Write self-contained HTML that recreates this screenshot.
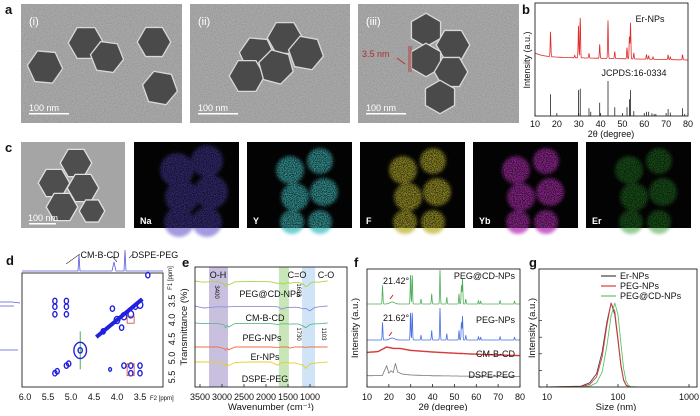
<!DOCTYPE html>
<html><head><meta charset="utf-8">
<style>
html,body{margin:0;padding:0;background:#fff;}
body{width:700px;height:411px;overflow:hidden;font-family:"Liberation Sans",sans-serif;}
svg text{font-family:"Liberation Sans",sans-serif;}
</style></head>
<body>
<svg id="fig" width="700" height="411" viewBox="0 0 700 411" xmlns="http://www.w3.org/2000/svg">
<defs>
<filter id="noise" x="0" y="0" width="100%" height="100%">
<feTurbulence type="fractalNoise" baseFrequency="0.9" numOctaves="2" seed="3"/>
<feColorMatrix values="0 0 0 0 0  0 0 0 0 0  0 0 0 0 0  0 0 0 1.2 -0.45"/>
<feComposite operator="in" in2="SourceGraphic"/>
</filter>
<filter id="speck" x="0" y="0" width="100%" height="100%">
<feTurbulence type="fractalNoise" baseFrequency="1.1" numOctaves="1" seed="7"/>
<feColorMatrix values="0 0 0 0 0  0 0 0 0 0  0 0 0 0 0  0 0 0 -3 1.9"/>
<feComposite operator="in" in2="SourceGraphic"/>
</filter>
<filter id="blur1"><feGaussianBlur stdDeviation="1.5"/></filter>
</defs>
<g id="root"></g>
</svg>
<script>
// ---------- Panel b data ----------
const bPeaks2t = [17.1,28.2,29.9,30.7,34.7,39.6,43.4,46.5,52.1,53.2,53.7,55.2,61.0,62.0,64.0,70.9,71.9,77.5];
const bPeaksH  = [0.62,0.06,0.80,1.00,0.12,0.35,0.95,0.18,0.28,0.55,0.90,0.15,0.12,0.08,0.06,0.12,0.07,0.13];
const bSticks2t = [17.1,29.9,30.7,34.7,35.5,39.6,43.4,46.5,52.1,53.2,53.7,55.2,61.0,62.0,63.5,64.5,65.3,70.9,71.9,77.5,78.5];
const bSticksH  = [0.62,0.74,0.78,0.22,0.12,0.38,1.00,0.25,0.25,0.48,0.74,0.14,0.12,0.12,0.08,0.06,0.06,0.20,0.10,0.22,0.06];
const bTicks = [10,20,30,40,50,60,70,80];
// ---------- Panel d data (ppm F2, ppm F1, size) ----------
const dF2 = [5.35,5.35,5.35,5.1,5.1,5.1,4.8,3.33,5.35,5.3,5.1,5.05,4.8,4.15,3.85,3.7,3.7,3.5,3.5,3.85,3.7,3.5,4.1,3.6,3.9,4.3,4.0];
const dF1 = [3.5,3.65,3.85,3.5,3.65,3.85,4.8,2.82,5.4,5.35,5.2,5.15,4.8,5.3,5.2,5.2,5.4,5.2,5.4,3.9,3.85,3.6,3.7,3.65,4.2,4.3,4.0];
const dSize = [3,3,3,3,3,3,9,3,3,3,3,3,3,2,3,3,3,3,3,4,4,4,3,3,3,3,4];
const dDiagFrom = [4.45,4.45];
const dDiagTo = [3.45,3.45];
const dXTicks = [6.0,5.5,5.0,4.5,4.0,3.5];
const dYTicks = [3.5,4.0,4.5,5.0,5.5];
// ---------- Panel e data (wavenumber, dip depth) ----------
const eNames = ["PEG@CD-NPs","CM-B-CD","PEG-NPs","Er-NPs","DSPE-PEG"];
const eColors = ["#a9d44a","#8d8fd6","#62b98c","#ea7148","#e6cf2e"];
const eBase = [0.0,0.25,0.42,0.66,0.81];
const eWn = [3650,3500,3400,3300,3100,2950,2920,2880,2850,2700,2300,1900,1730,1650,1600,1500,1460,1350,1250,1150,1100,1050,1000,900,800,700,600];
const eDip = [
 [0,0.02,0.03,0.02,0.01,0.08,0.14,0.06,0.1,0.02,0.01,0.02,0.06,0.05,0.08,0.03,0.06,0.03,0.04,0.08,0.14,0.12,0.06,0.02,0.03,0.01,0],
 [0,0.03,0.05,0.04,0.02,0.02,0.03,0.02,0.02,0.01,0.01,0.01,0.02,0.08,0.06,0.03,0.04,0.03,0.04,0.07,0.06,0.09,0.12,0.04,0.02,0.01,0],
 [0,0.01,0.01,0.01,0.01,0.05,0.12,0.06,0.1,0.01,0.01,0.01,0.04,0.02,0.02,0.02,0.03,0.02,0.03,0.08,0.12,0.08,0.04,0.02,0.02,0.01,0],
 [0,0,0,0,0,0.04,0.08,0.03,0.07,0,0,0,0.01,0,0,0,0.03,0,0,0,0.01,0,0,0,0,0,0],
 [0,0,0,0,0,0.06,0.1,0.05,0.09,0.01,0,0,0.08,0.02,0.01,0.01,0.03,0.02,0.05,0.08,0.16,0.1,0.05,0.03,0.02,0.01,0]
];
const eTicks = [3500,3000,2500,2000,1500,1000];
// ---------- Panel f data ----------
const fNames = ["PEG@CD-NPs","PEG-NPs","CM-B-CD","DSPE-PEG"];
const fColors = ["#4fae5a","#4a6fe0","#d83a3a","#777777"];
const fPeaks2t = [17.1,29.9,30.7,34.7,39.6,43.4,46.5,52.1,53.2,53.7,55.2,61.0,62.0,70.9,77.5];
const fPeaksH = [0.55,0.85,0.85,0.15,0.3,1.0,0.2,0.3,0.55,0.75,0.15,0.1,0.08,0.1,0.08];
const fHumpX = [10,15,19,22,25,30,40,50,60,70,80];
const fCMBCD = [0.18,0.22,0.45,0.38,0.38,0.28,0.2,0.14,0.09,0.05,0.02];
const fDSPEx = [10,17,19,20,21,22,23,24,26,30,40,60,80];
const fDSPEy = [0.05,0.06,0.45,0.15,0.25,0.18,0.55,0.2,0.12,0.08,0.05,0.03,0.02];
const fTicks = [10,20,30,40,50,60,70,80];
// ---------- Panel g data ----------
const gSizes = [10,30,40,50,60,70,80,90,100,110,120,130,140,150,200,1000];
const gEr  = [0,0.01,0.05,0.16,0.42,0.78,1.0,0.86,0.55,0.25,0.08,0.02,0.005,0,0,0];
const gPEG = [0,0.005,0.03,0.12,0.36,0.74,1.0,0.9,0.58,0.27,0.09,0.025,0.006,0,0,0];
const gCD  = [0,0.002,0.01,0.05,0.18,0.5,0.85,1.0,0.86,0.52,0.22,0.07,0.02,0.005,0,0];
const gNames = ["Er-NPs","PEG-NPs","PEG@CD-NPs"];
const gColors = ["#444444","#e0393e","#5cc46a"];
const gTicks = [10,100,1000];

const NS="http://www.w3.org/2000/svg";
const root=document.getElementById('root');
function mk(tag,attrs,parent,txt){const e=document.createElementNS(NS,tag);for(const k in attrs)e.setAttribute(k,attrs[k]);if(txt!==undefined)e.textContent=txt;(parent||root).appendChild(e);return e;}
function txt(x,y,s,size,opts,parent){opts=opts||{};const t=mk('text',Object.assign({x:x,y:y,'font-size':size,fill:opts.fill||'#111','text-anchor':opts.anchor||'start'},opts.extra||{}),parent,s);if(opts.rot)t.setAttribute('transform','rotate('+opts.rot+' '+x+' '+y+')');if(opts.bold)t.setAttribute('font-weight','bold');return t;}
function hexPts(cx,cy,r,rot){let p=[];for(let i=0;i<6;i++){const a=(rot+60*i)*Math.PI/180;p.push((cx+r*Math.cos(a)).toFixed(1)+','+(cy+r*Math.sin(a)).toFixed(1));}return p.join(' ');}

// ---------- Panel labels ----------
[['a',5,14],['b',522,14],['c',5,152],['d',6,265],['e',182,267],['f',354,267],['g',529,267]].forEach(l=>{
 const t=txt(l[1],l[2],l[0],13,{bold:true});
 
 
});

// ---------- Panel a TEM images ----------
const temBoxes=[[21,4,161,119,'(i)'],[190,4,160,119,'(ii)'],[358,4,161,119,'(iii)']];
const temHex=[
 [[45,67,17,5],[86,43,17,0],[107,57,16,8],[154,42,16,0],[160,88,17,10]],
 [[257,54,17,5],[285,38,17,0],[306,53,17,10],[247,76,17,0],[276,67,17,15]],
 [[426,30,16,30],[453,45,16,0],[426,60,16,30],[451,72,16,0],[440,97,16,30]]
];
temBoxes.forEach((b,i)=>{
 const g=mk('g',{});
 
 
 mk('rect',{x:b[0],y:b[1],width:b[2],height:b[3],fill:'#a9a9a9'},g);
 mk('rect',{x:b[0],y:b[1],width:b[2],height:b[3],fill:'#000',filter:'url(#noise)',opacity:0.25},g);
 temHex[i].forEach(h=>{
  mk('polygon',{points:hexPts(h[0],h[1],h[2]+1.5,h[3]),fill:'#d8d8d8'},g);
  mk('polygon',{points:hexPts(h[0],h[1],h[2],h[3]),fill:'#4a4a4a'},g);
 });
 txt(b[0]+8,b[1]+21,b[4],11,{fill:'#fff'},g);
 mk('rect',{x:b[0]+8,y:b[1]+109,width:40,height:1.5,fill:'#fff'},g);
 txt(b[0]+8,b[1]+107,'100 nm',9,{fill:'#fff'},g);
});
const annot=mk('g',{});


mk('line',{x1:409,y1:46,x2:409,y2:72,stroke:'#b03030','stroke-width':0.8},annot);
mk('line',{x1:411,y1:46,x2:411,y2:72,stroke:'#b03030','stroke-width':0.8},annot);
mk('line',{x1:397,y1:58,x2:405,y2:64,stroke:'#b03030','stroke-width':0.8},annot);
txt(362,57,'3.5 nm',9,{fill:'#b03030'},annot);

// ---------- Panel b ----------
(function(){
 const X0=535,X1=688,Y0=3,Y1=116;
 const bx=v=>X0+(v-10)/70*(X1-X0);
 const g=mk('g',{});
 
 
 let d='';
 for(let t=10;t<=80;t+=0.1){const base=57+(t-10)/70*3-4*Math.exp(-(t-10)/4);let y=base;
  bPeaks2t.forEach((p,i)=>{y-=bPeaksH[i]*40*Math.exp(-Math.pow((t-p)/0.22,2));});
  d+=(d?'L':'M')+bx(t).toFixed(1)+','+y.toFixed(1);}
 const pth=mk('path',{d:d,fill:'none',stroke:'#e02b2b','stroke-width':0.8},g);
 
 
 bSticks2t.forEach((p,i)=>{
  const l=mk('line',{x1:bx(p),x2:bx(p),y1:116,y2:116-bSticksH[i]*35,stroke:'#222','stroke-width':0.8},g);
  
  
 });
 mk('rect',{x:X0,y:Y0,width:X1-X0,height:Y1-Y0,fill:'none',stroke:'#222','stroke-width':0.9},g);
 bTicks.forEach(t=>{mk('line',{x1:bx(t),x2:bx(t),y1:Y1,y2:Y1-3,stroke:'#222','stroke-width':0.8},g);
  const tl=txt(bx(t),127,String(t),9,{anchor:'middle'},g);
  
  });
 txt(611,137,'2θ (degree)',9,{anchor:'middle'},g);
 txt(530,60,'Intensity (a.u.)',9,{anchor:'middle',rot:-90},g);
 txt(650,22,'Er-NPs',9,{anchor:'middle'},g);
 txt(634,76,'JCPDS:16-0334',9,{anchor:'middle'},g);
})();

// ---------- Panel c ----------
(function(){
 const y=142,h=86;
 const g0=mk('g',{});
 
 
 mk('rect',{x:21,y:y,width:104,height:h,fill:'#a5a5a5'},g0);
 [[76,163,15,0],[54,183,15,0],[83,188,15,0],[62,207,15,0],[92,211,12,0]].forEach(c=>{
  mk('polygon',{points:hexPts(c[0],c[1],c[2]+1.5,c[3]),fill:'#e0e0e0'},g0);
  mk('polygon',{points:hexPts(c[0],c[1],c[2],c[3]),fill:'#4e4e4e'},g0);});
 mk('rect',{x:29,y:223,width:27,height:1.5,fill:'#fff'},g0);
 txt(28,221,'100 nm',9,{fill:'#fff'},g0);
 const maps=[['Na',134,'#5a48c8'],['Y',247,'#45c0c0'],['F',360,'#bdb530'],['Yb',473,'#b830b8'],['Er',586,'#2f9a2f']];
 const blobs=[[28,28,14],[58,19,13],[62,50,14],[33,55,14],[30,80,12],[58,80,12]];
 maps.forEach(m=>{
  const g=mk('g',{});
  
  
  mk('rect',{x:m[1],y:y,width:105,height:h,fill:'#050505'},g);
  const cg=mk('g',{opacity:m[0]==='Er'?0.5:(m[0]==='Na'?0.55:0.75),filter:'url(#blur1)'},g);
  blobs.forEach(b=>{mk('circle',{cx:m[1]+15+b[0],cy:y+b[1],r:b[2]+(m[0]==='Na'?3:0),fill:m[2]},cg);});
  mk('rect',{x:m[1],y:y,width:105,height:h,fill:'#000',filter:'url(#speck)',opacity:0.75},g);
  txt(m[1]+6,y+h-4,m[0],9,{fill:'#fff',bold:true},g);
 });
})();

// ---------- Panel d ----------
(function(){
 const X0=22,X1=163,Y0=273,Y1=387;
 const dx=p=>25+(6-p)*46, dy=p=>301+(p-3.5)*38;
 const g=mk('g',{});
 
 
 mk('rect',{x:X0,y:Y0,width:X1-X0,height:Y1-Y0,fill:'#fff',stroke:'#222','stroke-width':0.9},g);
 mk('path',{d:'M22,271 L78,271 L79,255 L80,271 L112,271 L114,262 L116,271 L124,271 L125,250 L126,271 L163,271',fill:'none',stroke:'#5a5ae0','stroke-width':0.8},g);
 mk('path',{d:'M0,302 L12,302 L20,303 M0,306 L14,306 M0,350 L18,350',fill:'none',stroke:'#5a5ae0','stroke-width':0.8},g);
 const dl=mk('line',{x1:dx(dDiagFrom[0]),y1:dy(dDiagFrom[1]),x2:dx(dDiagTo[0]),y2:dy(dDiagTo[1]),stroke:'#2020e0','stroke-width':4},g);
 
 
 mk('line',{x1:dx(4.8),y1:dy(4.3),x2:dx(4.8),y2:dy(5.3),stroke:'#20a020','stroke-width':0.8},g);
 dF2.forEach((v,i)=>{
  const c=mk('ellipse',{cx:dx(v),cy:dy(dF1[i]),rx:dSize[i]*0.7,ry:dSize[i]*0.9,fill:'none',stroke:'#2020e0','stroke-width':1.4},g);
  
  
 });
 mk('rect',{x:dx(3.78),y:dy(5.15),width:7,height:12,fill:'none',stroke:'#c04040','stroke-width':0.8},g);
 mk('rect',{x:dx(3.78),y:dy(3.9),width:7,height:7,fill:'none',stroke:'#c04040','stroke-width':0.8},g);
 dXTicks.forEach(t=>{const l=txt(dx(t),400,t.toFixed(1),9,{anchor:'middle'},g);
  
  });
 txt(150,400,'F2 [ppm]',6,{},g);
 dYTicks.forEach(t=>{const l=txt(175,dy(t),t.toFixed(1),9,{anchor:'middle',rot:-90},g);
  
  });
 txt(172,278,'F1 [ppm]',6,{anchor:'middle',rot:-90},g);
 txt(100,258,'CM-B-CD',9,{anchor:'middle'},g);
 txt(155,258,'DSPE-PEG',9,{anchor:'middle'},g);
 mk('path',{d:'M80,254 L66,264 M112,256 L117,262 M133,254 L129,258',stroke:'#333','stroke-width':0.6,fill:'none'},g);
})();

// ---------- Panel e ----------
(function(){
 const X0=195,X1=347,Y0=267,Y1=387;
 const ex=w=>200+(3500-w)/500*22;
 const g=mk('g',{});
 
 
 mk('rect',{x:ex(3500)+9,y:Y0,width:19,height:Y1-Y0,fill:'#c9c0e0'},g);
 mk('rect',{x:ex(1730)+1,y:Y0,width:10,height:Y1-Y0,fill:'#c8e6b8'},g);
 mk('rect',{x:ex(1180),y:Y0,width:13,height:Y1-Y0,fill:'#cfe4f6'},g);
 const yScale=(s,v)=>Y0+14+eBase[s]*(Y1-Y0-20)-(-v)*40;
 eNames.forEach((n,s)=>{
  let d='';
  eWn.forEach((w,i)=>{d+=(i?'L':'M')+Math.min(X1,Math.max(X0,ex(w))).toFixed(1)+','+yScale(s,eDip[s][i]).toFixed(1);});
  const p=mk('path',{d:d,fill:'none',stroke:eColors[s],'stroke-width':0.9},g);
  
  
  const lx=[270,265,262,265,265][s], ly=[297,321,341,360,382][s];
  txt(lx,ly,n,9,{anchor:'middle'},g);
 });
 mk('rect',{x:X0,y:Y0,width:X1-X0,height:Y1-Y0,fill:'none',stroke:'#222','stroke-width':0.9},g);
 eTicks.forEach(t=>{mk('line',{x1:ex(t),x2:ex(t),y1:Y1,y2:Y1-3,stroke:'#222','stroke-width':0.8},g);
  const l=txt(ex(t),400,String(t),9,{anchor:'middle'},g);
  
  });
 txt(271,410,'Wavenumber (cm⁻¹)',9.5,{anchor:'middle'},g);
 txt(187,327,'Transmittance (%)',9.5,{anchor:'middle',rot:-90},g);
 txt(218,278,'O-H',9,{anchor:'middle'},g);
 txt(297,278,'C=O',9,{anchor:'middle'},g);
 txt(326,278,'C-O',9,{anchor:'middle'},g);
 txt(215,292,'3400',6,{anchor:'middle',rot:90},g);
 txt(297,290,'1683',6,{anchor:'middle',rot:90},g);
 txt(297,334,'1730',6,{anchor:'middle',rot:90},g);
 txt(322,334,'1103',6,{anchor:'middle',rot:90},g);
})();

// ---------- Panel f ----------
(function(){
 const X0=367,X1=520,Y0=269,Y1=387;
 const fx=v=>X0+(v-10)/70*(X1-X0);
 const g=mk('g',{});
 
 
 const interp=(xs,ys,t)=>{for(let i=1;i<xs.length;i++){if(t<=xs[i]){const r=(t-xs[i-1])/(xs[i]-xs[i-1]);return ys[i-1]+r*(ys[i]-ys[i-1]);}}return ys[ys.length-1];};
 const series=[[304,30,0],[340,30,1],[352,20,2],[377,25,3]];
 series.forEach(sr=>{
  const s=sr[2];let d='';
  for(let t=10;t<=80;t+=0.1){let y=sr[0];
   if(s<2){fPeaks2t.forEach((p,i)=>{y-=fPeaksH[i]*(s===0?34:32)*Math.exp(-Math.pow((t-p)/0.22,2));});y-=2*Math.exp(-Math.pow((t-21.5)/1.5,2));}
   else if(s===2){y-=interp(fHumpX,fCMBCD,t)*sr[1];y+=4;}
   else{y-=interp(fDSPEx,fDSPEy,t)*sr[1];}
   d+=(d?'L':'M')+fx(t).toFixed(1)+','+y.toFixed(1);}
  const p=mk('path',{d:d,fill:'none',stroke:fColors[s],'stroke-width':s===2?1.4:0.8},g);
  
  
 });
 mk('rect',{x:X0,y:Y0,width:X1-X0,height:Y1-Y0,fill:'none',stroke:'#222','stroke-width':0.9},g);
 fTicks.forEach(t=>{mk('line',{x1:fx(t),x2:fx(t),y1:Y1,y2:Y1-3,stroke:'#222','stroke-width':0.8},g);
  const l=txt(fx(t),400,String(t),9,{anchor:'middle'},g);
  
  });
 txt(443,410,'2θ (degree)',9.5,{anchor:'middle'},g);
 txt(358,328,'Intensity (a.u.)',9.5,{anchor:'middle',rot:-90},g);
 txt(515,279,'PEG@CD-NPs',9,{anchor:'end'},g);
 txt(515,323,'PEG-NPs',9,{anchor:'end'},g);
 txt(515,357,'CM-B-CD',9,{anchor:'end'},g);
 txt(515,378,'DSPE-PEG',9,{anchor:'end'},g);
 txt(383,284,'21.42°',9,{},g);
 txt(383,321,'21.62°',9,{},g);
 mk('path',{d:'M393,295 L390,299 M392,332 L389,336',stroke:'#d02020','stroke-width':1},g);
})();

// ---------- Panel g ----------
(function(){
 const X0=539,X1=697,Y0=269,Y1=387;
 const gx=v=>X0+8+Math.log10(v/10)/2*(X1-X0-16);
 const gy=v=>Y1-v*84;
 const g=mk('g',{});
 
 
 [gEr,gPEG,gCD].forEach((arr,s)=>{
  let d='';gSizes.forEach((sz,i)=>{d+=(i?'L':'M')+gx(sz).toFixed(1)+','+gy(arr[i]).toFixed(1);});
  const p=mk('path',{d:d,fill:'none',stroke:gColors[s],'stroke-width':0.9,'stroke-linejoin':'round'},g);
  
  
  mk('line',{x1:601,x2:616,y1:276+s*10,y2:276+s*10,stroke:gColors[s],'stroke-width':1.2},g);
  const lt=txt(620,279+s*10,gNames[s],9,{},g);
  
  
 });
 mk('rect',{x:X0,y:Y0,width:X1-X0,height:Y1-Y0,fill:'none',stroke:'#222','stroke-width':0.9},g);
 for(let i=0;i<5;i++){mk('line',{x1:X0,x2:X0+3,y1:Y1-i*16.6,y2:Y1-i*16.6,stroke:'#222','stroke-width':0.7},g);}
 gTicks.forEach(t=>{mk('line',{x1:gx(t),x2:gx(t),y1:Y1,y2:Y1-3,stroke:'#222','stroke-width':0.8},g);
  const l=txt(gx(t),400,String(t),9,{anchor:'middle'},g);
  
  });
 txt(616,410,'Size (nm)',9.5,{anchor:'middle'},g);
 txt(535,328,'Intensity (a.u.)',9.5,{anchor:'middle',rot:-90},g);
})();
</script>
</body></html>
